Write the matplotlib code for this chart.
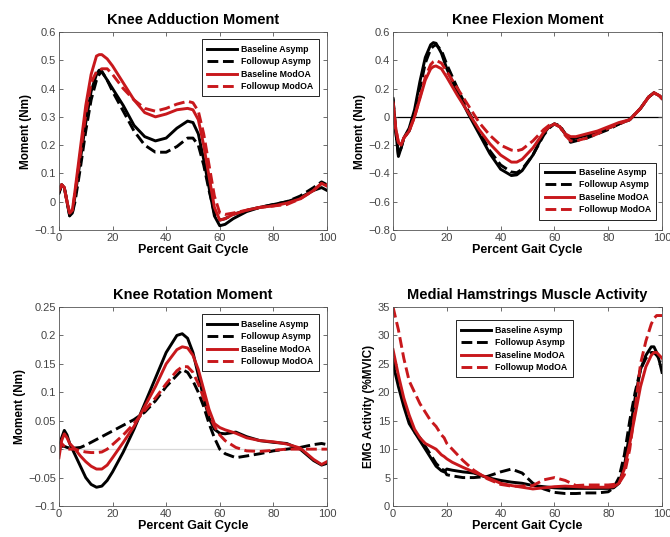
import numpy as np
import matplotlib
matplotlib.use("Agg")
import matplotlib.pyplot as plt

plt.rcParams['font.family'] = ['Liberation Sans', 'DejaVu Sans']

series_names = ["Baseline Asymp", "Followup Asymp", "Baseline ModOA", "Followup ModOA"]

# Knee adduction moment
add_x = [0, 1, 2, 3, 4, 5, 6, 8, 10, 12, 14, 15, 16, 18, 20, 24, 28, 32, 36, 40, 44, 48, 50,
         52, 54, 56, 58, 60, 62, 65, 70, 75, 80, 85, 90, 95, 98, 100]
add_base_asymp = [0.03, 0.06, 0.05, 0.0, -0.05, -0.04, 0.02, 0.15, 0.28, 0.39, 0.45, 0.465, 0.46,
                  0.43, 0.40, 0.34, 0.27, 0.23, 0.215, 0.225, 0.26, 0.285, 0.28, 0.24, 0.15, 0.05,
                  -0.05, -0.085, -0.08, -0.06, -0.035, -0.02, -0.01, 0.0, 0.015, 0.04, 0.05, 0.04]
add_follow_asymp = [0.03, 0.06, 0.05, 0.0, -0.05, -0.04, 0.0, 0.12, 0.25, 0.36, 0.43, 0.45, 0.46,
                    0.43, 0.39, 0.32, 0.25, 0.20, 0.175, 0.175, 0.195, 0.225, 0.225, 0.20, 0.13,
                    0.04, -0.04, -0.065, -0.06, -0.045, -0.03, -0.02, -0.01, 0.0, 0.02, 0.05,
                    0.07, 0.06]
add_base_oa = [0.04, 0.06, 0.05, 0.0, -0.04, -0.03, 0.04, 0.19, 0.34, 0.45, 0.515, 0.52, 0.52,
               0.505, 0.48, 0.42, 0.36, 0.315, 0.30, 0.31, 0.325, 0.33, 0.325, 0.29, 0.20, 0.09,
               -0.02, -0.065, -0.06, -0.045, -0.03, -0.02, -0.015, -0.005, 0.01, 0.04, 0.065, 0.055]
add_follow_oa = [0.04, 0.06, 0.05, 0.0, -0.04, -0.03, 0.03, 0.17, 0.31, 0.42, 0.46, 0.465, 0.47,
                 0.47, 0.45, 0.40, 0.36, 0.33, 0.32, 0.33, 0.345, 0.355, 0.35, 0.32, 0.24, 0.13,
                 0.02, -0.04, -0.045, -0.04, -0.03, -0.02, -0.015, -0.01, 0.01, 0.04, 0.065, 0.06]

# Knee flexion moment
flex_x = [0, 1, 2, 3, 4, 6, 8, 10, 12, 14, 15, 16, 18, 20, 24, 28, 32, 36, 40, 44, 46, 48, 52,
          56, 58, 60, 62, 64, 66, 68, 72, 76, 80, 84, 88, 92, 95, 97, 99, 100]
flex_base_asymp = [0.13, -0.1, -0.28, -0.22, -0.15, -0.08, 0.05, 0.25, 0.42, 0.51, 0.525, 0.52,
                   0.45, 0.34, 0.17, 0.02, -0.12, -0.26, -0.37, -0.415, -0.41, -0.38, -0.27,
                   -0.12, -0.07, -0.05, -0.07, -0.12, -0.16, -0.15, -0.13, -0.11, -0.08, -0.05,
                   -0.02, 0.06, 0.14, 0.17, 0.15, 0.13]
flex_follow_asymp = [0.13, -0.1, -0.27, -0.22, -0.15, -0.1, 0.02, 0.2, 0.38, 0.48, 0.5, 0.51,
                     0.47, 0.37, 0.2, 0.04, -0.1, -0.24, -0.34, -0.39, -0.395, -0.37, -0.27,
                     -0.13, -0.08, -0.05, -0.06, -0.12, -0.18, -0.17, -0.15, -0.12, -0.09, -0.05,
                     -0.02, 0.06, 0.14, 0.17, 0.15, 0.13]
flex_base_oa = [0.1, -0.08, -0.18, -0.2, -0.15, -0.1, 0.0, 0.13, 0.26, 0.34, 0.355, 0.36, 0.34,
                0.28, 0.15, 0.03, -0.09, -0.19, -0.27, -0.32, -0.32, -0.3, -0.22, -0.11, -0.07,
                -0.05, -0.07, -0.12, -0.14, -0.14, -0.12, -0.1, -0.07, -0.04, -0.02, 0.06, 0.14,
                0.17, 0.15, 0.13]
flex_follow_oa = [0.1, -0.08, -0.18, -0.2, -0.15, -0.1, 0.0, 0.14, 0.28, 0.37, 0.39, 0.4, 0.38,
                  0.32, 0.2, 0.08, -0.04, -0.13, -0.2, -0.235, -0.24, -0.23, -0.17, -0.09, -0.06,
                  -0.05, -0.07, -0.13, -0.17, -0.17, -0.15, -0.12, -0.08, -0.05, -0.02, 0.06,
                  0.14, 0.17, 0.15, 0.13]

# Knee rotation moment
rot_x = [0, 1, 2, 3, 4, 6, 8, 10, 12, 14, 16, 18, 20, 24, 28, 32, 36, 40, 44, 46, 48, 50, 52,
         54, 56, 58, 60, 62, 66, 70, 75, 80, 85, 90, 95, 98, 100]
rot_base_asymp = [0.0, 0.02, 0.033, 0.025, 0.01, -0.01, -0.03, -0.05, -0.062, -0.067, -0.065,
                  -0.055, -0.04, -0.005, 0.035, 0.08, 0.125, 0.17, 0.2, 0.203, 0.195, 0.17, 0.13,
                  0.09, 0.055, 0.035, 0.028, 0.027, 0.03, 0.022, 0.015, 0.012, 0.01, 0.0, -0.02,
                  -0.028, -0.025]
rot_follow_asymp = [0.005, 0.005, 0.005, 0.003, 0.002, 0.002, 0.003, 0.007, 0.012, 0.017, 0.022,
                    0.027, 0.032, 0.042, 0.052, 0.065, 0.085, 0.11, 0.13, 0.14, 0.135, 0.12, 0.1,
                    0.075, 0.045, 0.02, 0.0, -0.008, -0.015, -0.012, -0.008, -0.003, 0.0, 0.003,
                    0.008, 0.01, 0.008]
rot_base_oa = [-0.015, 0.015, 0.027, 0.02, 0.01, 0.0, -0.012, -0.022, -0.03, -0.035, -0.035,
               -0.028, -0.015, 0.012, 0.04, 0.075, 0.11, 0.15, 0.175, 0.18, 0.178, 0.165, 0.14,
               0.105, 0.07, 0.045, 0.038, 0.034, 0.028, 0.02, 0.015, 0.013, 0.009, 0.002, -0.018,
               -0.027, -0.022]
rot_follow_oa = [0.0, 0.01, 0.005, 0.0, 0.0, 0.0, -0.003, -0.005, -0.006, -0.006, -0.005, 0.0,
                 0.008, 0.025, 0.045, 0.068, 0.09, 0.115, 0.138, 0.145, 0.145, 0.135, 0.115, 0.09,
                 0.062, 0.04, 0.025, 0.015, 0.003, -0.003, -0.004, -0.002, 0.0, 0.0, 0.0, 0.0, 0.0]

# Medial hamstrings EMG
emg_x = [0, 2, 4, 6, 8, 10, 12, 14, 16, 18, 19, 20, 22, 26, 30, 35, 40, 44, 48, 52, 56, 60, 64,
         68, 72, 76, 80, 82, 84, 86, 88, 90, 92, 94, 96, 97, 98, 99, 100]
emg_base_asymp = [25, 21, 17.5, 14.5, 13, 11.5, 10, 8.5, 7, 6.2, 6, 6.5, 6.3, 6.0, 5.8, 5, 4.5,
                  4.2, 4, 3.6, 3.4, 3.2, 3.1, 3.1, 3.1, 3.1, 3.1, 3.2, 4, 7, 13, 19, 24, 26.5, 28,
                  28, 27, 25.5, 23.5]
emg_follow_asymp = [26, 22, 18, 15, 13, 12, 10.5, 9, 7.5, 6.5, 6.3, 5.5, 5.3, 5.0, 5, 5.2, 6,
                    6.5, 5.8, 4, 3, 2.4, 2.2, 2.2, 2.3, 2.3, 2.5, 3.2, 5, 9, 15, 20, 24, 26, 27,
                    27, 26.5, 26, 25.5]
emg_base_oa = [27.5, 23, 19, 16, 13.5, 12, 11, 10.5, 10, 9, 8.7, 8.3, 7.7, 6.8, 6, 5, 4, 3.6,
               3.3, 3, 3.2, 3.4, 3.5, 3.4, 3.3, 3.3, 3.3, 3.4, 4, 6.5, 11, 16, 21, 24.5, 26.5, 27,
               27, 26.5, 26]
emg_follow_oa = [35, 31, 26, 22, 20, 18, 16.5, 15, 14, 12.5, 12, 11, 10, 8, 6.3, 4.8, 3.8, 3.5,
                 3.5, 3.6, 4.6, 5, 4.5, 3.6, 3.7, 3.7, 3.7, 3.8, 4, 5.5, 10, 17, 25, 29, 32, 33,
                 33.5, 33.5, 33.5]

RED = "#c8181c"
styles = [("black", "-"), ("black", "--"), (RED, "-"), (RED, "--")]

fig = plt.figure(figsize=(6.7, 5.37), dpi=100)

panels = [
    dict(rect=[0.088, 0.5717, 0.4, 0.3687], title="Knee Adduction Moment", ylabel="Moment (Nm)",
         x=add_x, ys=[add_base_asymp, add_follow_asymp, add_base_oa, add_follow_oa],
         ylim=(-0.1, 0.6), yticks=np.arange(-0.1, 0.61, 0.1), zero=None,
         leg=dict(loc="upper right", bbox_to_anchor=(0.985, 0.985))),
    dict(rect=[0.5866, 0.5717, 0.4015, 0.3687], title="Knee Flexion Moment", ylabel="Moment (Nm)",
         x=flex_x, ys=[flex_base_asymp, flex_follow_asymp, flex_base_oa, flex_follow_oa],
         ylim=(-0.8, 0.6), yticks=np.arange(-0.8, 0.61, 0.2), zero="black",
         leg=dict(loc="lower right", bbox_to_anchor=(0.995, 0.03))),
    dict(rect=[0.088, 0.0577, 0.4, 0.3706], title="Knee Rotation Moment", ylabel="Moment (Nm)",
         x=rot_x, ys=[rot_base_asymp, rot_follow_asymp, rot_base_oa, rot_follow_oa],
         ylim=(-0.1, 0.25), yticks=np.arange(-0.1, 0.251, 0.05), zero="#d8d8d8",
         leg=dict(loc="upper right", bbox_to_anchor=(0.985, 0.985))),
    dict(rect=[0.5866, 0.0577, 0.4015, 0.3706], title="Medial Hamstrings Muscle Activity",
         ylabel="EMG Activity (%MVIC)",
         x=emg_x, ys=[emg_base_asymp, emg_follow_asymp, emg_base_oa, emg_follow_oa],
         ylim=(0, 35), yticks=np.arange(0, 36, 5), zero=None,
         leg=dict(loc="upper center", bbox_to_anchor=(0.45, 0.955))),
]

for p in panels:
    ax = fig.add_axes(p["rect"])
    if p["zero"]:
        ax.axhline(0, color=p["zero"], lw=0.9, zorder=1)
    for ys, name, (c, ls) in zip(p["ys"], series_names, styles):
        ax.plot(p["x"], ys, color=c, ls=ls, lw=2.1, label=name, zorder=2)
    ax.set_xlim(0, 100)
    ax.set_ylim(*p["ylim"])
    ax.set_xticks(np.arange(0, 101, 20))
    ax.set_yticks(p["yticks"])
    labels = []
    for v in p["yticks"]:
        v = round(float(v), 3) + 0.0
        labels.append("0" if v == 0 else "{:g}".format(v).replace("-", "\u2212"))
    ax.set_yticklabels(labels)
    ax.tick_params(direction="in", length=3, width=0.6, top=True, right=True,
                   labelsize=8, labelcolor="#444444", color="#555555", pad=2)
    for s in ax.spines.values():
        s.set_linewidth(0.6)
        s.set_color("#555555")
    ax.set_title(p["title"], fontsize=10.5, fontweight="bold", pad=6)
    ax.set_xlabel("Percent Gait Cycle", fontsize=9, fontweight="bold", labelpad=1)
    ax.set_ylabel(p["ylabel"], fontsize=8.5, fontweight="bold", labelpad=2)
    leg = ax.legend(prop=dict(size=6.3, weight="bold"), handlelength=3.4, fancybox=False,
                    edgecolor="black", framealpha=1, borderpad=0.6, labelspacing=0.4,
                    handletextpad=0.5, **p["leg"])
    leg.get_frame().set_linewidth(0.6)

fig.savefig("out.png", dpi=100)
